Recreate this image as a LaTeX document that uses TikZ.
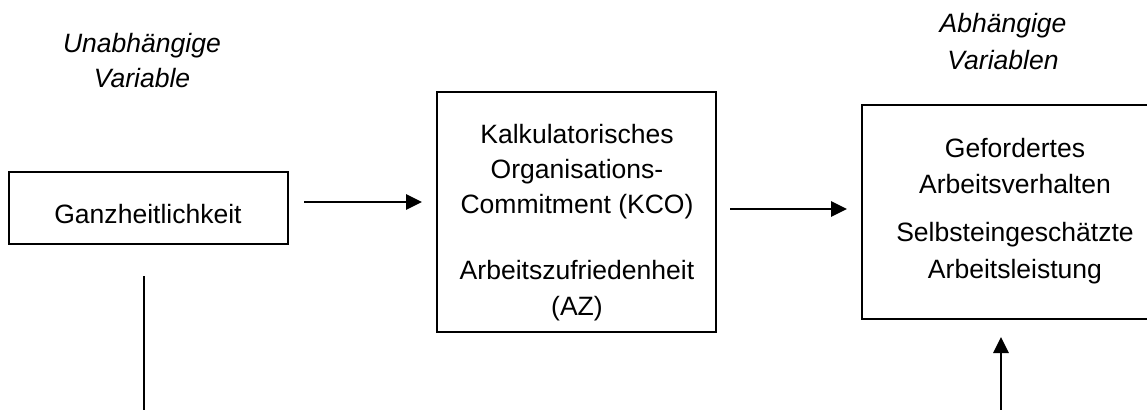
\documentclass[tikz,border=0pt]{standalone}
\usepackage{fontspec}
\setmainfont{Liberation Sans}
\usetikzlibrary{arrows.meta,calc}
\begin{document}
\begin{tikzpicture}[x=0.75pt,y=-0.75pt,
  box/.style={draw,line width=1.3pt,inner sep=0pt,outer sep=0pt},
  lbl/.style={anchor=base,inner sep=0pt,font=\fontsize{19.9pt}{27pt}\selectfont},
  head/.style={lbl,font=\fontsize{19.9pt}{27pt}\selectfont\itshape},
  arr/.style={line width=1.7pt,-{Triangle[length=12pt,width=11.5pt]}},
  plain/.style={line width=1.1pt}]
  \useasboundingbox (0,0) rectangle (1147,410);
  \clip (0,0) rectangle (1147,410);

  % column headings
  \node[head] (h1a) at (142,53) {Unabhängige};
  \node[head] (h1b) at (142,88) {Variable};
  \node[head] (h3a) at (1003,33) {Abhängige};
  \node[head] (h3b) at (1003,70) {Variablen};

  % boxes
  \node[box,minimum width=209.25pt,minimum height=54pt] (b1) at (148.5,208) {};
  \node[box,minimum width=209.25pt,minimum height=180pt] (b2) at (576.5,212) {};
  \node[box,minimum width=229.5pt,minimum height=160.5pt] (b3) at (1015,212) {};

  % box texts
  \node[lbl] (t1) at (148,223) {Ganzheitlichkeit};

  \node[lbl] (t2a) at (577,143) {Kalkulatorisches};
  \node[lbl] (t2b) at (577,178) {Organisations-};
  \node[lbl] (t2c) at (577,213) {Commitment (KCO)};
  \node[lbl] (t2d) at (577,279) {Arbeitszufriedenheit};
  \node[lbl] (t2e) at (577,315) {(AZ)};

  \node[lbl] (t3a) at (1015,157) {Gefordertes};
  \node[lbl] (t3b) at (1015,193) {Arbeitsverhalten};
  \node[lbl] (t3c) at (1015,241) {Selbsteingeschätzte};
  \node[lbl] (t3d) at (1015,278) {Arbeitsleistung};

  % connectors
  \draw[arr] ($(b1.east)+(16,-6)$) -- ($(b2.west)+(-15,-10)$);
  \draw[arr] ($(b2.east)+(14,-3)$) -- ($(b3.west)+(-15,-3)$);

  \coordinate (lbot) at (144,420);
  \draw[plain] ($(b1.south)+(-4.5,32)$) -- (lbot);

  \coordinate (rbot) at (1001,420);
  \draw[arr] (rbot) -- ($(b3.south)+(-14,18)$);
\end{tikzpicture}
\end{document}
